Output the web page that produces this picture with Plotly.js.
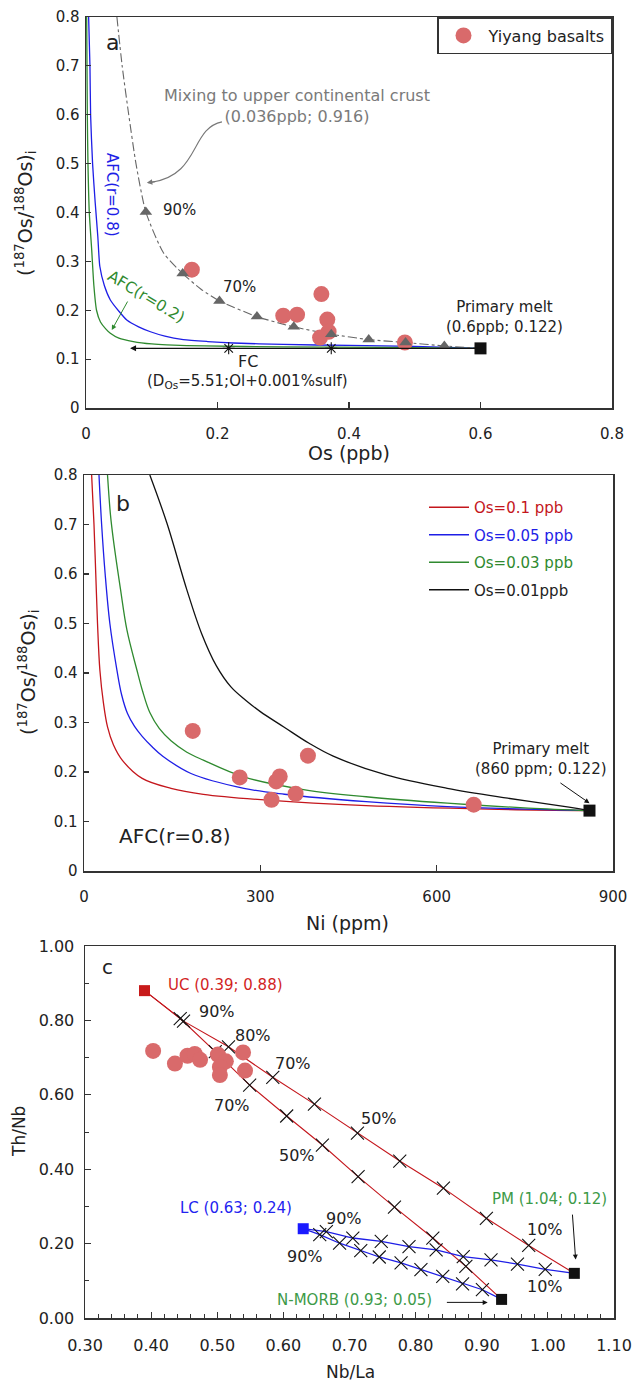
<!DOCTYPE html>
<html>
<head>
<meta charset="utf-8">
<script src="https://cdn.plot.ly/plotly-3.0.1.min.js"></script>
<style>html,body{margin:0;padding:0;background:#fff}</style>
</head>
<body>
<div id="chart" style="width:634px;height:1384px"></div>
<script>
// ---------- (a) Os vs 187Os/188Os ----------
const basaltOs    = [0.161, 0.300, 0.321, 0.358, 0.367, 0.369, 0.356, 0.485];
const basaltRatio = [0.283, 0.189, 0.191, 0.233, 0.181, 0.156, 0.144, 0.134];

const mixTriOs    = [0.091, 0.147, 0.203, 0.260, 0.316, 0.373, 0.430, 0.486, 0.545];
const mixTriRatio = [0.401, 0.275, 0.219, 0.187, 0.166, 0.151, 0.140, 0.134, 0.127];
const mixCurveOs    = [0.047, 0.055, 0.065, 0.076, 0.091, 0.118, 0.147, 0.175, 0.203, 0.260, 0.316, 0.373, 0.430, 0.486, 0.545, 0.600];
const mixCurveRatio = [0.800, 0.700, 0.600, 0.500, 0.401, 0.317, 0.275, 0.243, 0.219, 0.187, 0.166, 0.151, 0.140, 0.134, 0.127, 0.122];

const afc08Os    = [0.004, 0.006, 0.007, 0.010, 0.014, 0.018, 0.021, 0.028, 0.037, 0.050, 0.062, 0.080, 0.098, 0.120, 0.148, 0.185, 0.224, 0.300, 0.400, 0.500, 0.600];
const afc08Ratio = [0.800, 0.700, 0.600, 0.500, 0.420, 0.350, 0.290, 0.250, 0.221, 0.198, 0.180, 0.166, 0.156, 0.147, 0.140, 0.136, 0.133, 0.130, 0.128, 0.126, 0.122];
const afc02Os    = [0.001, 0.002, 0.003, 0.005, 0.0087, 0.012, 0.016, 0.022, 0.030, 0.037, 0.050, 0.072, 0.100, 0.123, 0.180, 0.300, 0.450, 0.600];
const afc02Ratio = [0.800, 0.600, 0.500, 0.400, 0.323, 0.250, 0.200, 0.176, 0.162, 0.153, 0.143, 0.136, 0.131, 0.129, 0.127, 0.125, 0.124, 0.122];

const fcStepOs    = [0.217, 0.373];
const fcStepRatio = [0.122, 0.122];
const fcEndOs = 0.067;

const primaryOs = [0.6], primaryRatio = [0.122];

// ---------- (b) Ni vs 187Os/188Os, AFC r = 0.8 ----------
const basaltNi = [185, 265, 333, 381, 327, 360, 319, 663];
const primaryNi = [860];

const afcNiOs010    = [13, 17, 20, 23, 27, 33, 40, 50, 65, 99, 148, 203, 313, 480, 687, 860];
const afcRatioOs010 = [0.800, 0.700, 0.600, 0.500, 0.406, 0.340, 0.291, 0.255, 0.224, 0.187, 0.167, 0.155, 0.143, 0.132, 0.125, 0.122];
const afcNiOs005    = [25.5, 30, 36, 44, 56, 64, 74, 86, 99, 115, 134, 182, 272, 341, 480, 618, 860];
const afcRatioOs005 = [0.800, 0.700, 0.600, 0.500, 0.406, 0.356, 0.318, 0.292, 0.272, 0.252, 0.232, 0.197, 0.167, 0.155, 0.140, 0.130, 0.122];
const afcNiOs003    = [40, 45, 50, 62, 73, 90, 100, 112, 128, 148, 175, 203, 272, 376, 480, 618, 756, 860];
const afcRatioOs003 = [0.800, 0.720, 0.669, 0.570, 0.487, 0.406, 0.362, 0.320, 0.288, 0.263, 0.240, 0.224, 0.190, 0.164, 0.150, 0.137, 0.127, 0.122];
const afcNiOs001    = [112, 141, 175, 200, 225, 250, 275, 300, 340, 383, 424, 514, 618, 721, 825, 860];
const afcRatioOs001 = [0.800, 0.703, 0.568, 0.480, 0.415, 0.372, 0.345, 0.322, 0.291, 0.258, 0.232, 0.194, 0.167, 0.147, 0.129, 0.122];

// ---------- (c) Nb/La vs Th/Nb ----------
const basaltNbLa = [0.403, 0.436, 0.455, 0.466, 0.474, 0.501, 0.513, 0.504, 0.504, 0.539, 0.542];
const basaltThNb = [0.718, 0.684, 0.705, 0.710, 0.694, 0.708, 0.690, 0.675, 0.653, 0.714, 0.665];

const UC = {nbla: 0.39, thnb: 0.88};
const LC = {nbla: 0.63, thnb: 0.24};
const PM = {nbla: 1.04, thnb: 0.12};
const NMORB = {nbla: 0.93, thnb: 0.05};

const ucPmNbLa = [0.449, 0.517, 0.584, 0.647, 0.712, 0.776, 0.842, 0.907, 0.971];
const ucPmThNb = [0.798, 0.729, 0.647, 0.575, 0.497, 0.422, 0.349, 0.268, 0.195];
const ucMorbNbLa = [0.444, 0.497, 0.549, 0.605, 0.659, 0.713, 0.768, 0.826, 0.876];
const ucMorbThNb = [0.805, 0.716, 0.626, 0.543, 0.465, 0.380, 0.298, 0.215, 0.139];
const lcPmNbLa = [0.665, 0.705, 0.748, 0.790, 0.831, 0.872, 0.914, 0.954, 0.996];
const lcPmThNb = [0.232, 0.215, 0.206, 0.192, 0.183, 0.165, 0.156, 0.145, 0.131];
const lcMorbNbLa = [0.655, 0.685, 0.717, 0.745, 0.778, 0.808, 0.841, 0.871, 0.901];
const lcMorbThNb = [0.224, 0.201, 0.181, 0.164, 0.148, 0.130, 0.112, 0.092, 0.076];

// ---------- styling ----------
const W = 634, H = 1384;
const FONT = 'DejaVu Sans';
const INK = '#222222';
const AXIS = '#333333';
const RED = '#c4161c', BLUE = '#1e1ee6', GREEN = '#2f8a2f', BLACK = '#111111';
const BASALT = '#d96a6b', TRI = '#666666', GREY_TXT = '#7a7a7a';
const LBL_RED = '#d21f1f', LBL_BLUE = '#2323f0', LBL_GREEN = '#3d9a48';

const fx = px => px / W;
const fy = py => 1 - py / H;

function axis(domPx, range, vertical, extra) {
  const dom = vertical ? [fy(domPx[1]), fy(domPx[0])] : [fx(domPx[0]), fx(domPx[1])];
  return Object.assign({
    domain: dom, range: range, showline: true, linecolor: AXIS, linewidth: 1.5,
    mirror: true, ticks: 'inside', ticklen: 5, tickwidth: 1.2, tickcolor: AXIS,
    showgrid: false, zeroline: false, fixedrange: true,
    tickfont: {family: FONT, size: 15, color: INK}
  }, extra || {});
}

function line(x, y, xa, ya, color, width, dash, smooth) {
  const ln = {color: color, width: width, dash: dash || 'solid'};
  if (smooth) { ln.shape = 'spline'; ln.smoothing = smooth; }
  return {x: x, y: y, xaxis: xa, yaxis: ya, type: 'scatter', mode: 'lines',
          line: ln, showlegend: false, hoverinfo: 'skip'};
}
function pts(x, y, xa, ya, marker) {
  return {x: x, y: y, xaxis: xa, yaxis: ya, type: 'scatter', mode: 'markers',
          marker: marker, showlegend: false, hoverinfo: 'skip', cliponaxis: false};
}
function txt(xref, yref, x, y, text, size, color, extra) {
  return Object.assign({xref: xref, yref: yref, x: x, y: y, text: text, showarrow: false,
    xanchor: 'center', yanchor: 'middle',
    font: {family: FONT, size: size, color: color || INK}}, extra || {});
}
function arrow(xref, yref, x0, y0, x1, y1, color, width) {
  return {xref: xref, yref: yref, axref: xref, ayref: yref, ax: x0, ay: y0, x: x1, y: y1,
    text: '', showarrow: true, arrowhead: 2, arrowsize: 1, arrowwidth: width || 1,
    arrowcolor: color || BLACK, standoff: 0, startstandoff: 0};
}
const circle = s => ({symbol: 'circle', size: s, color: BASALT, line: {width: 0}});
const square = (c, s) => ({symbol: 'square', size: s, color: c, line: {width: 0}});
const cross = {symbol: 'x-thin-open', size: 13, color: BLACK, line: {color: BLACK, width: 1.1}};

const traces = [
  // ---- (a)
  line(afc08Os, afc08Ratio, 'x', 'y', BLUE, 1.3, 'solid', 0.6),
  line(afc02Os, afc02Ratio, 'x', 'y', GREEN, 1.3, 'solid', 0.6),
  line(mixCurveOs, mixCurveRatio, 'x', 'y', '#666666', 1.1, 'dashdot', 0.6),
  Object.assign(pts(basaltOs, basaltRatio, 'x', 'y', circle(16)),
                {name: 'Yiyang basalts', showlegend: true, legend: 'legend'}),
  pts(mixTriOs, mixTriRatio, 'x', 'y', {symbol: 'triangle-up', size: 11, color: TRI, line: {width: 0}}),
  pts(fcStepOs, fcStepRatio, 'x', 'y', {symbol: 'asterisk-open', size: 10, color: BLACK, line: {color: BLACK, width: 1.1}}),
  pts(primaryOs, primaryRatio, 'x', 'y', square(BLACK, 12)),

  // ---- (b)
  Object.assign(line(afcNiOs010, afcRatioOs010, 'x2', 'y2', RED, 1.3, 'solid', 1.0),
    {name: '<span style="color:' + RED + '">Os=0.1 ppb</span>', showlegend: true, legend: 'legend2', legendgroup: 'g1'}),
  Object.assign(line(afcNiOs005, afcRatioOs005, 'x2', 'y2', BLUE, 1.3, 'solid', 1.0),
    {name: '<span style="color:' + BLUE + '">Os=0.05 ppb</span>', showlegend: true, legend: 'legend2', legendgroup: 'g2'}),
  Object.assign(line(afcNiOs003, afcRatioOs003, 'x2', 'y2', GREEN, 1.3, 'solid', 1.0),
    {name: '<span style="color:' + GREEN + '">Os=0.03 ppb</span>', showlegend: true, legend: 'legend2', legendgroup: 'g3'}),
  Object.assign(line(afcNiOs001, afcRatioOs001, 'x2', 'y2', BLACK, 1.3, 'solid', 1.0),
    {name: '<span style="color:' + INK + '">Os=0.01ppb</span>', showlegend: true, legend: 'legend2', legendgroup: 'g4'}),
  pts(basaltNi, basaltRatio, 'x2', 'y2', circle(16)),
  pts(primaryNi, primaryRatio, 'x2', 'y2', square(BLACK, 12)),

  // ---- (c)
  line([UC.nbla].concat(ucPmNbLa, [PM.nbla]), [UC.thnb].concat(ucPmThNb, [PM.thnb]), 'x3', 'y3', RED, 1.1),
  line([UC.nbla].concat(ucMorbNbLa, [NMORB.nbla]), [UC.thnb].concat(ucMorbThNb, [NMORB.thnb]), 'x3', 'y3', RED, 1.1),
  line([LC.nbla].concat(lcPmNbLa, [PM.nbla]), [LC.thnb].concat(lcPmThNb, [PM.thnb]), 'x3', 'y3', BLUE, 1.3),
  line([LC.nbla].concat(lcMorbNbLa, [NMORB.nbla]), [LC.thnb].concat(lcMorbThNb, [NMORB.thnb]), 'x3', 'y3', BLUE, 1.3),
  pts(ucPmNbLa, ucPmThNb, 'x3', 'y3', cross),
  pts(ucMorbNbLa, ucMorbThNb, 'x3', 'y3', cross),
  pts(lcPmNbLa, lcPmThNb, 'x3', 'y3', cross),
  pts(lcMorbNbLa, lcMorbThNb, 'x3', 'y3', cross),
  pts(basaltNbLa, basaltThNb, 'x3', 'y3', circle(16)),
  pts([UC.nbla], [UC.thnb], 'x3', 'y3', square('#c81a1a', 11)),
  pts([LC.nbla], [LC.thnb], 'x3', 'y3', square('#1a1aff', 11)),
  pts([PM.nbla, NMORB.nbla], [PM.thnb, NMORB.thnb], 'x3', 'y3', square(BLACK, 11))
];

const osTitle = '(<sup>187</sup>Os/<sup>188</sup>Os)<sub>i</sub>';

const annotations = [
  // ---- (a)
  txt('x', 'y', 0.040, 0.748, 'a', 22),
  txt('x', 'y', 0.3215, 0.618, 'Mixing to upper continental crust<br>(0.036ppb; 0.916)', 16, GREY_TXT),
  {xref: 'x', yref: 'y', axref: 'x', ayref: 'y', x: 0.0925, y: 0.4607, ax: 0.1076, ay: 0.4636,
   text: '', showarrow: true, arrowhead: 2, arrowsize: 1, arrowwidth: 1.1, arrowcolor: '#777777', standoff: 0},
  txt('x', 'y', 0.1428, 0.405, '90%', 15),
  txt('x', 'y', 0.2331, 0.247, '70%', 15),
  txt('x', 'y', 0.0396, 0.436, 'AFC(r=0.8)', 15, BLUE, {textangle: 90}),
  txt('x', 'y', 0.0919, 0.2276, 'AFC(r=0.2)', 15.5, GREEN, {textangle: 31}),
  arrow('x', 'y', 0.0645, 0.2209, 0.0392, 0.1595, GREEN, 1),
  txt('x', 'y', 0.637, 0.187, 'Primary melt<br>(0.6ppb; 0.122)', 15),
  arrow('x', 'y', primaryOs[0], primaryRatio[0], fcEndOs, primaryRatio[0], BLACK, 1.2),
  txt('x', 'y', 0.2458, 0.0947, 'FC', 16),
  txt('x', 'y', 0.2449, 0.0538, '(D<sub>Os</sub>=5.51;Ol+0.001%sulf)', 15),
  txt('paper', 'paper', fx(349), fy(453), 'Os (ppb)', 19),
  txt('paper', 'paper', fx(25), fy(214), osTitle, 19, INK, {textangle: -90}),

  // ---- (b)
  txt('x2', 'y2', 66, 0.743, 'b', 22),
  txt('x2', 'y2', 155, 0.0707, 'AFC(r=0.8)', 20),
  txt('x2', 'y2', 777, 0.227, 'Primary melt<br>(860 ppm; 0.122)', 15),
  arrow('x2', 'y2', 808, 0.180, 860, 0.137, BLACK, 1),
  txt('paper', 'paper', fx(347), fy(923), 'Ni (ppm)', 19),
  txt('paper', 'paper', fx(28), fy(673), osTitle, 19, INK, {textangle: -90}),

  // ---- (c)
  txt('x3', 'y3', 0.334, 0.944, 'c', 20),
  txt('x3', 'y3', 0.512, 0.895, 'UC (0.39; 0.88)', 15, LBL_RED),
  txt('x3', 'y3', 0.499, 0.823, '90%', 16),
  txt('x3', 'y3', 0.554, 0.760, '80%', 16),
  txt('x3', 'y3', 0.615, 0.684, '70%', 16),
  txt('x3', 'y3', 0.523, 0.570, '70%', 16),
  txt('x3', 'y3', 0.745, 0.537, '50%', 16),
  txt('x3', 'y3', 0.620, 0.436, '50%', 16),
  txt('x3', 'y3', 0.692, 0.268, '90%', 16),
  txt('x3', 'y3', 0.632, 0.166, '90%', 16),
  txt('x3', 'y3', 0.995, 0.239, '10%', 16),
  txt('x3', 'y3', 0.995, 0.085, '10%', 16),
  txt('x3', 'y3', 0.529, 0.295, 'LC (0.63; 0.24)', 15, LBL_BLUE),
  txt('x3', 'y3', 1.002, 0.319, 'PM (1.04; 0.12)', 15, LBL_GREEN),
  arrow('x3', 'y3', 1.037, 0.282, 1.042, 0.157, BLACK, 1),
  txt('x3', 'y3', 0.708, 0.049, 'N-MORB (0.93; 0.05)', 15, LBL_GREEN),
  arrow('x3', 'y3', 0.845, 0.042, 0.909, 0.042, BLACK, 1),
  txt('paper', 'paper', fx(350), fy(1372), 'Nb/La', 17),
  txt('paper', 'paper', fx(19), fy(1132), 'Th/Nb', 17, INK, {textangle: -90})
];

// curved pointer from the mixing label down to the mixing curve
const shapes = [
  {type: 'path', xref: 'x', yref: 'y', layer: 'above',
   path: 'M 0.2068,0.5855 C 0.1585,0.5726 0.1737,0.4765 0.1000,0.4620',
   line: {color: '#777777', width: 1.1}}
];

const layout = {
  width: W, height: H,
  margin: {l: 0, r: 0, t: 0, b: 0},
  paper_bgcolor: '#ffffff', plot_bgcolor: '#ffffff',
  font: {family: FONT, color: INK},
  showlegend: true,
  xaxis:  axis([86, 612], [0, 0.8], false, {anchor: 'y', dtick: 0.2, tick0: 0, ticklen: 6, ticklabelstandoff: 11}),
  yaxis:  axis([17, 408], [0, 0.8], true,  {anchor: 'x', dtick: 0.1, tick0: 0, ticklabelstandoff: 2}),
  xaxis2: axis([84, 613], [0, 900], false, {anchor: 'y2', dtick: 300, tick0: 0, ticklen: 6, ticklabelstandoff: 11}),
  yaxis2: axis([475, 871], [0, 0.8], true, {anchor: 'x2', dtick: 0.1, tick0: 0, ticklabelstandoff: 2}),
  xaxis3: axis([85, 614], [0.3, 1.1], false, {anchor: 'y3', dtick: 0.1, tick0: 0.3, tickformat: '.2f',
            ticklen: 6, ticklabelstandoff: 12, tickfont: {family: FONT, size: 16, color: INK},
            minor: {dtick: 0.02, ticks: 'inside', ticklen: 4, tickcolor: AXIS, tickwidth: 1}}),
  yaxis3: axis([946, 1318], [0, 1.0], true, {anchor: 'x3', dtick: 0.2, tick0: 0, tickformat: '.2f',
            ticklen: 6, ticklabelstandoff: 6, tickfont: {family: FONT, size: 16, color: INK},
            minor: {dtick: 0.1, ticks: 'inside', ticklen: 4, tickcolor: AXIS, tickwidth: 1}}),
  legend: {x: fx(612), xanchor: 'right', y: fy(17), yanchor: 'top',
           bgcolor: '#ffffff', bordercolor: AXIS, borderwidth: 1.5,
           font: {family: FONT, size: 16, color: INK}, itemwidth: 40},
  legend2: {x: fx(424), xanchor: 'left', y: fy(491), yanchor: 'top',
            bgcolor: 'rgba(0,0,0,0)', borderwidth: 0, tracegroupgap: 5,
            font: {family: FONT, size: 15, color: INK}, itemwidth: 40},
  annotations: annotations,
  shapes: shapes
};

Plotly.newPlot('chart', traces, layout, {staticPlot: true, displayModeBar: false});
</script>
</body>
</html>
